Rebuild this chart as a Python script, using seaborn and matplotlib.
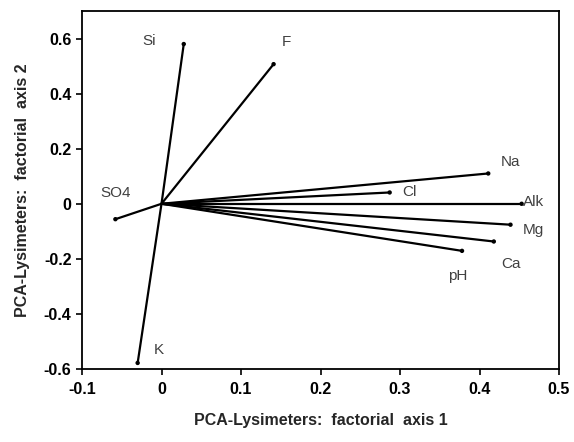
import matplotlib
matplotlib.use('Agg')
import matplotlib.pyplot as plt
import seaborn as sns
import pandas as pd

# PCA loadings (factorial axes 1 and 2)
variables = ['Si', 'F', 'SO4', 'K', 'Na', 'Cl', 'Alk', 'Mg', 'Ca', 'pH']
axis1 = [0.028, 0.141, -0.058, -0.030, 0.411, 0.287, 0.453, 0.439, 0.418, 0.378]
axis2 = [0.580, 0.507, -0.056, -0.578, 0.110, 0.041, 0.000, -0.076, -0.137, -0.171]

# label offsets in points (styling only)
label_offsets = {
    'Si': (-24.7, 1.9), 'F': (9.4, 16.3), 'SO4': (0.5, 19.2), 'K': (15.1, 9.6),
    'Na': (15.8, 8.6), 'Cl': (13.9, 0.0), 'Alk': (8.9, 1.2), 'Mg': (16.6, -4.1),
    'Ca': (12.2, -16.1), 'pH': (-3.4, -17.8),
}

pts = pd.DataFrame({'var': variables, 'x': axis1, 'y': axis2})
# vectors from origin to each loading
origin = pd.DataFrame({'var': variables, 'x': 0.0, 'y': 0.0})
vectors = pd.concat([origin, pts], ignore_index=True)

sns.set_style('ticks')
plt.rcParams['font.family'] = ['Liberation Sans', 'DejaVu Sans']

fig = plt.figure(figsize=(5.74, 4.42), dpi=100)
ax = fig.add_axes([82 / 574, 73 / 442, 477 / 574, 358 / 442])

sns.lineplot(data=vectors, x='x', y='y', units='var', estimator=None, sort=False,
             color='black', linewidth=1.6, ax=ax)
sns.scatterplot(data=pts, x='x', y='y', color='black', s=10, edgecolor='none', ax=ax, zorder=3)

for _, r in pts.iterrows():
    dx, dy = label_offsets[r['var']]
    ax.annotate(r['var'], (r['x'], r['y']), xytext=(dx, dy), textcoords='offset points',
                ha='center', va='center', fontsize=11, color='#404040')

ax.set_xlim(-0.1, 0.5)
ax.set_ylim(-0.6, 0.7)
ax.set_xticks([-0.1, 0, 0.1, 0.2, 0.3, 0.4, 0.5])
ax.set_xticklabels(['-0.1', '0', '0.1', '0.2', '0.3', '0.4', '0.5'])
ax.set_yticks([-0.6, -0.4, -0.2, 0, 0.2, 0.4, 0.6])
ax.set_yticklabels(['-0.6', '-0.4', '-0.2', '0', '0.2', '0.4', '0.6'])
ax.tick_params(axis='both', direction='out', length=4, width=1.2, labelsize=11.5, colors='black')
ax.tick_params(axis='x', pad=5)
for lab in ax.get_xticklabels() + ax.get_yticklabels():
    lab.set_fontweight('bold')
for sp in ax.spines.values():
    sp.set_visible(True)
    sp.set_linewidth(1.3)
    sp.set_color('black')

ax.set_xlabel('PCA-Lysimeters:  factorial  axis 1', fontsize=11.5, fontweight='bold', labelpad=12)
ax.set_ylabel('PCA-Lysimeters:  factorial  axis 2', fontsize=11.5, fontweight='bold', labelpad=10)

fig.savefig('out.png', dpi=100)
